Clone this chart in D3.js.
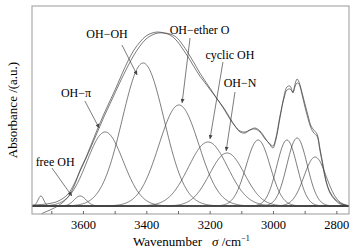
<!DOCTYPE html>
<html>
<head>
<meta charset="utf-8">
<script src="https://cdn.jsdelivr.net/npm/d3@7"></script>
<style>
body { margin: 0; background: #fff; }
.font { font-family: "Liberation Serif", "Times New Roman", "DejaVu Serif", serif; fill: #000; }
.label { font-size: 12px; }
.axis-title { font-size: 13px; }
.x-axis text { font-size: 12.5px; }
.x-axis line { stroke: #666; }
.frame { fill: none; stroke: #999; stroke-width: 1; }
.component { fill: none; stroke: #444; stroke-width: 0.7; }
.envelope { fill: none; stroke: #444; stroke-width: 0.7; }
.pointer { stroke: #444; stroke-width: 0.7; }
</style>
</head>
<body>
<svg id="chart" width="357" height="252"></svg>
<script>
const SVG_WIDTH = 357;
const SVG_HEIGHT = 252;
const PLOT_LEFT = 32;
const PLOT_RIGHT = 349;
const PLOT_TOP = 6;
const PLOT_BOTTOM = 214;
const FONT_FAMILY = "'Liberation Serif', 'Times New Roman', 'DejaVu Serif', serif";

// wavenumber grid of the two envelope curves (cm-1)
const ENVELOPE_WAVENUMBER = [
    3761, 3736, 3726, 3704, 3685, 3666, 3647, 3628, 3609, 3590,
    3572, 3553, 3534, 3515, 3496, 3477, 3458, 3439, 3420, 3401,
    3382, 3363, 3344, 3325, 3306, 3287, 3268, 3249, 3231, 3212,
    3193, 3174, 3155, 3136, 3120, 3104, 3088, 3073, 3057, 3041,
    3025, 3009, 3000, 2991, 2978, 2965, 2956, 2946, 2937, 2931,
    2924, 2918, 2908, 2899, 2889, 2880, 2871, 2861, 2852, 2842,
    2833, 2820, 2804, 2788, 2773, 2760];
// measured spectrum
const MEASURED_ABSORBANCE = [
    -0.055, -0.045, -0.035, -0.02, -0.005, 0.015, 0.045, 0.10, 0.18, 0.245,
    0.315, 0.39, 0.46, 0.525, 0.59, 0.66, 0.725, 0.78, 0.82, 0.85,
    0.865, 0.87, 0.865, 0.855, 0.83, 0.79, 0.745, 0.695, 0.65, 0.61,
    0.57, 0.53, 0.49, 0.44, 0.40, 0.37, 0.365, 0.38, 0.39, 0.375,
    0.34, 0.305, 0.29, 0.33, 0.44, 0.55, 0.595, 0.60, 0.565, 0.605,
    0.635, 0.62, 0.565, 0.51, 0.45, 0.40, 0.38, 0.36, 0.29, 0.205,
    0.13, 0.07, 0.035, 0.015, 0.005, 0];
// fitted spectrum
const FITTED_ABSORBANCE = [
    0.005, 0.007, 0.008, 0.013, 0.02, 0.035, 0.06, 0.11, 0.175, 0.24,
    0.305, 0.375, 0.445, 0.51, 0.575, 0.64, 0.70, 0.755, 0.80, 0.835,
    0.855, 0.865, 0.865, 0.86, 0.845, 0.81, 0.765, 0.715, 0.665, 0.62,
    0.575, 0.53, 0.485, 0.435, 0.40, 0.375, 0.37, 0.38, 0.385, 0.37,
    0.335, 0.31, 0.30, 0.34, 0.45, 0.54, 0.58, 0.585, 0.57, 0.595,
    0.615, 0.61, 0.555, 0.495, 0.435, 0.39, 0.365, 0.35, 0.28, 0.195,
    0.125, 0.065, 0.03, 0.01, 0.005, 0];

// fitted gaussian components
const PEAK_CENTER = [3733, 3609, 3530, 3410, 3297, 3205, 3145, 3047, 2956, 2924, 2867];
const PEAK_HEIGHT = [0.05, 0.05, 0.37, 0.715, 0.505, 0.32, 0.265, 0.33, 0.33, 0.34, 0.245];
const PEAK_SIGMA = [9, 19, 57, 66, 63, 62, 55, 38, 32, 32, 35];

const X_TICK_VALUES = [3700, 3600, 3500, 3400, 3300, 3200, 3100, 3000, 2900, 2800];
const X_TICK_LABELS = ["", "3600", "", "3400", "", "3200", "", "3000", "", "2800"];

// label text, text anchor point, pointer start, pointer tip (data units)
const ANNOTATIONS = [
    {text: "OH\u2212OH", x: 3524, y: 0.84, x1: 3477, y1: 0.805, x2: 3429, y2: 0.655},
    {text: "OH\u2212ether O", x: 3232, y: 0.86, x1: 3262, y1: 0.84, x2: 3287, y2: 0.515},
    {text: "cyclic OH", x: 3136, y: 0.735, x1: 3158, y1: 0.72, x2: 3199, y2: 0.335},
    {text: "OH\u2212N", x: 3104, y: 0.595, x1: 3120, y1: 0.57, x2: 3148, y2: 0.275},
    {text: "OH\u2212\u03c0", x: 3622, y: 0.545, x1: 3594, y1: 0.525, x2: 3549, y2: 0.39},
    {text: "free OH", x: 3688, y: 0.20, x1: 3698, y1: 0.19, x2: 3635, y2: 0.05}
];

var svg = d3.select("#chart");

var xScale = d3.scaleLinear()
    .domain([3761, 2760])
    .range([PLOT_LEFT, PLOT_RIGHT]);
var yScale = d3.scaleLinear()
    .domain([-0.04, 1.0])
    .range([PLOT_BOTTOM, PLOT_TOP]);

svg.append("clipPath")
    .attr("id", "plotAreaClipPath")
    .append("rect")
    .attr("x", PLOT_LEFT)
    .attr("y", PLOT_TOP)
    .attr("width", PLOT_RIGHT - PLOT_LEFT)
    .attr("height", PLOT_BOTTOM - PLOT_TOP);

var defs = svg.append("defs");
defs.append("marker")
    .attr("id", "arrow")
    .attr("viewBox", "0 0 10 10")
    .attr("refX", 10)
    .attr("refY", 5)
    .attr("markerWidth", 5)
    .attr("markerHeight", 4)
    .attr("markerUnits", "userSpaceOnUse")
    .attr("orient", "auto")
    .append("path")
    .attr("d", "M0,0L10,5L0,10z")
    .attr("fill", "#444");

var lineGroup = svg.append("g")
    .attr("clip-path", "url(#plotAreaClipPath)");

// components
var grid = d3.range(2760, 3762, 2);
var componentLine = d3.line()
    .x(function(d) { return xScale(d[0]); })
    .y(function(d) { return yScale(d[1]); });
for (var i = 0; i < PEAK_CENTER.length; i++) {
    var points = grid.map(function(w) {
        var z = (w - PEAK_CENTER[i]) / PEAK_SIGMA[i];
        return [w, PEAK_HEIGHT[i] * Math.exp(-0.5 * z * z)];
    });
    lineGroup.append("path")
        .datum(points)
        .classed("component", true)
        .attr("d", componentLine);
}

var envelopeLine = d3.line()
    .x(function(d) { return xScale(d[0]); })
    .y(function(d) { return yScale(d[1]); })
    .curve(d3.curveCatmullRom);
[MEASURED_ABSORBANCE, FITTED_ABSORBANCE].forEach(function(series) {
    lineGroup.append("path")
        .datum(ENVELOPE_WAVENUMBER.map(function(w, j) { return [w, series[j]]; }))
        .classed("envelope", true)
        .attr("d", envelopeLine);
});

// frame
svg.append("rect")
    .classed("frame", true)
    .attr("x", PLOT_LEFT)
    .attr("y", PLOT_TOP)
    .attr("width", PLOT_RIGHT - PLOT_LEFT)
    .attr("height", PLOT_BOTTOM - PLOT_TOP);

var xAxis = d3.axisBottom()
    .scale(xScale)
    .tickValues(X_TICK_VALUES)
    .tickSizeInner(-3)
    .tickSizeOuter(0)
    .tickPadding(6)
    .tickFormat(function(d, i) { return X_TICK_LABELS[i]; });
var xAxisGroup = svg.append("g")
    .classed("x-axis", true)
    .attr("transform", "translate(0," + PLOT_BOTTOM + ")")
    .call(xAxis);
xAxisGroup.select(".domain").remove();
xAxisGroup.attr("font-family", FONT_FAMILY).attr("font-size", 12.5);
xAxisGroup.selectAll("text")
    .attr("font-family", FONT_FAMILY)
    .attr("fill", "#000");

// x axis title
var xTitle = svg.append("text")
    .classed("font axis-title", true)
    .attr("font-family", FONT_FAMILY)
    .attr("x", 133)
    .attr("y", 246);
xTitle.append("tspan").text("Wavenumber");
xTitle.append("tspan").attr("dx", 10).attr("font-style", "italic").text("\u03c3");
xTitle.append("tspan").text(" /cm");
xTitle.append("tspan").attr("dy", -5).attr("font-size", "8px").text("\u22121");

// y axis title
svg.append("text")
    .classed("font axis-title", true)
    .attr("font-family", FONT_FAMILY)
    .attr("transform", "translate(17," + ((PLOT_TOP + PLOT_BOTTOM) / 2) + ") rotate(-90)")
    .attr("text-anchor", "middle")
    .text("Absorbance /(a.u.)");

// annotations
var annotation = svg.selectAll(".annotation")
    .data(ANNOTATIONS)
    .enter()
    .append("g")
    .classed("annotation", true);
annotation.append("line")
    .classed("pointer", true)
    .attr("x1", function(d) { return xScale(d.x1); })
    .attr("y1", function(d) { return yScale(d.y1); })
    .attr("x2", function(d) { return xScale(d.x2); })
    .attr("y2", function(d) { return yScale(d.y2); })
    .attr("marker-end", "url(#arrow)");
annotation.append("text")
    .classed("font label", true)
    .attr("font-family", FONT_FAMILY)
    .attr("text-anchor", "middle")
    .attr("x", function(d) { return xScale(d.x); })
    .attr("y", function(d) { return yScale(d.y); })
    .text(function(d) { return d.text; });
</script>
</body>
</html>
